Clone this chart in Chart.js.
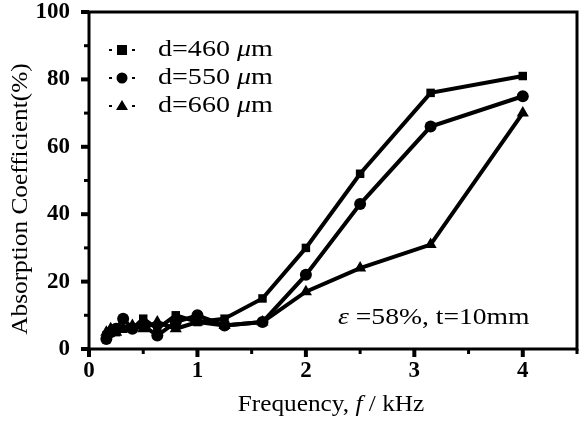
<!DOCTYPE html>
<html>
<head>
<meta charset="utf-8">
<script src="https://cdn.jsdelivr.net/npm/chart.js@4"></script>
<style>
  html, body { margin: 0; padding: 0; background: #fff; }
  #wrap { width: 584px; height: 423px; }
</style>
</head>
<body>
<div id="wrap"><canvas id="chart" width="584" height="423"></canvas></div>
<script>
// frequences (kHz) et coefficients d'absorption (%)
const freqs = [0.16, 0.2, 0.25, 0.315, 0.4, 0.5, 0.63, 0.8, 1.0, 1.25, 1.6, 2.0, 2.5, 3.15, 4.0];
const d460 = [4, 5, 5, 6, 6, 9, 6, 10, 8, 9, 15, 30, 52, 76, 81];
const d550 = [3, 5, 6, 9, 6, 7, 4, 8, 10, 7, 8, 22, 43, 66, 75];
const d660 = [5, 6, 5, 6, 7, 6, 8, 6, 8, 7, 8, 17, 24, 31, 70];
const seriesNames = ["460", "550", "660"];
const xTicks = [0, 1, 2, 3, 4];
const yTicks = [0, 20, 40, 60, 80, 100];

const SERIF = "'Liberation Serif', 'DejaVu Serif', serif";

function pts(vals) {
    return freqs.map((f, i) => ({ x: f, y: vals[i] }));
}

// texte en plusieurs morceaux (italique ou non), etire horizontalement
function richText(ctx, parts, x, y, size, sx, align) {
    let w = 0;
    parts.forEach(p => {
        ctx.font = (p[1] ? "italic " : "") + size + "px " + SERIF;
        w += ctx.measureText(p[0]).width;
    });
    ctx.save();
    ctx.translate(x, y);
    ctx.scale(sx, 1);
    let cx = align === "center" ? -w / 2 : 0;
    ctx.textAlign = "left";
    parts.forEach(p => {
        ctx.font = (p[1] ? "italic " : "") + size + "px " + SERIF;
        ctx.fillText(p[0], cx, 0);
        cx += ctx.measureText(p[0]).width;
    });
    ctx.restore();
}

// cadre, graduations, legende, annotation et titres
const decor = {
    id: "decor",
    afterDraw(chart) {
        const ctx = chart.ctx;
        const a = chart.chartArea;
        const xs = chart.scales.x, ys = chart.scales.y;
        ctx.save();
        ctx.strokeStyle = "#000";
        ctx.lineWidth = 3;
        ctx.strokeRect(a.left, a.top, a.right - a.left, a.bottom - a.top);

        // graduations x (majeures et mineures)
        for (let v = 0; v <= 4.5; v += 0.5) {
            const px = xs.getPixelForValue(v);
            const major = Number.isInteger(v);
            ctx.lineWidth = major ? 4 : 3;
            ctx.beginPath();
            ctx.moveTo(px, a.bottom);
            ctx.lineTo(px, a.bottom + (major ? 8 : 5));
            ctx.stroke();
        }
        // graduations y
        for (let v = 0; v <= 100; v += 10) {
            const py = ys.getPixelForValue(v);
            const major = v % 20 === 0;
            ctx.lineWidth = major ? 4 : 3;
            ctx.beginPath();
            ctx.moveTo(a.left, py);
            ctx.lineTo(a.left - (major ? 8 : 5), py);
            ctx.stroke();
        }

        ctx.fillStyle = "#000";
        ctx.textBaseline = "middle";

        // legende
        const rows = [50, 78, 106];
        const styles = ["rect", "circle", "triangle"];
        rows.forEach((y, i) => {
            ctx.fillRect(109, y - 1, 3, 2);
            ctx.fillRect(132, y - 1, 3, 2);
            ctx.beginPath();
            if (styles[i] === "rect") {
                ctx.rect(117, y - 5, 10, 10);
            } else if (styles[i] === "circle") {
                ctx.arc(122, y, 5.5, 0, Math.PI * 2);
            } else {
                ctx.moveTo(122, y - 6);
                ctx.lineTo(128, y + 4);
                ctx.lineTo(116, y + 4);
                ctx.closePath();
            }
            ctx.fill();
            richText(ctx, [["d=" + seriesNames[i] + " ", false], ["\u03bc", true], ["m", false]],
                158, y, 23, 1.22, "left");
        });

        // annotation
        richText(ctx, [["\u03b5", true], [" =58%, t=10mm", false]], 338, 318, 24, 1.15, "left");

        // titre axe x
        richText(ctx, [["Frequency, ", false], ["f", true], [" / kHz", false]], 331, 405, 23, 1.1, "center");

        // titre axe y
        ctx.translate(21, 199);
        ctx.rotate(-Math.PI / 2);
        richText(ctx, [["Absorption Coefficient(%)", false]], 0, 0, 23, 1.1, "center");
        ctx.restore();
    }
};

const common = {
    borderColor: "#000",
    backgroundColor: "#000",
    borderWidth: 4,
    pointBorderWidth: 0,
    tension: 0
};

new Chart(document.getElementById("chart").getContext("2d"), {
    type: "line",
    data: {
        datasets: [
            Object.assign({ label: "d=460 \u03bcm", data: pts(d460), pointStyle: "rect", pointRadius: 6 }, common),
            Object.assign({ label: "d=550 \u03bcm", data: pts(d550), pointStyle: "circle", pointRadius: 6 }, common),
            Object.assign({ label: "d=660 \u03bcm", data: pts(d660), pointStyle: "triangle", pointRadius: 7 }, common)
        ]
    },
    options: {
        responsive: false,
        animation: false,
        layout: { padding: { top: 0, right: -4, left: 0, bottom: 0 } },
        plugins: { legend: { display: false }, tooltip: { enabled: false } },
        scales: {
            x: {
                type: "linear",
                min: 0,
                max: 4.5,
                afterFit: s => { s.height = 74; s.paddingRight = 0; },
                afterBuildTicks: s => { s.ticks = xTicks.map(v => ({ value: v })); },
                grid: { display: false },
                border: { display: false },
                ticks: {
                    color: "#000",
                    padding: 0,
                    font: { family: SERIF, size: 23, weight: "bold" }
                }
            },
            y: {
                min: 0,
                max: 100,
                afterFit: s => { s.width = 89; s.paddingTop = 12; },
                afterBuildTicks: s => { s.ticks = yTicks.map(v => ({ value: v })); },
                grid: { display: false },
                border: { display: false },
                ticks: {
                    color: "#000",
                    padding: 11,
                    font: { family: SERIF, size: 23, weight: "bold" }
                }
            }
        }
    },
    plugins: [decor]
});
</script>
</body>
</html>
